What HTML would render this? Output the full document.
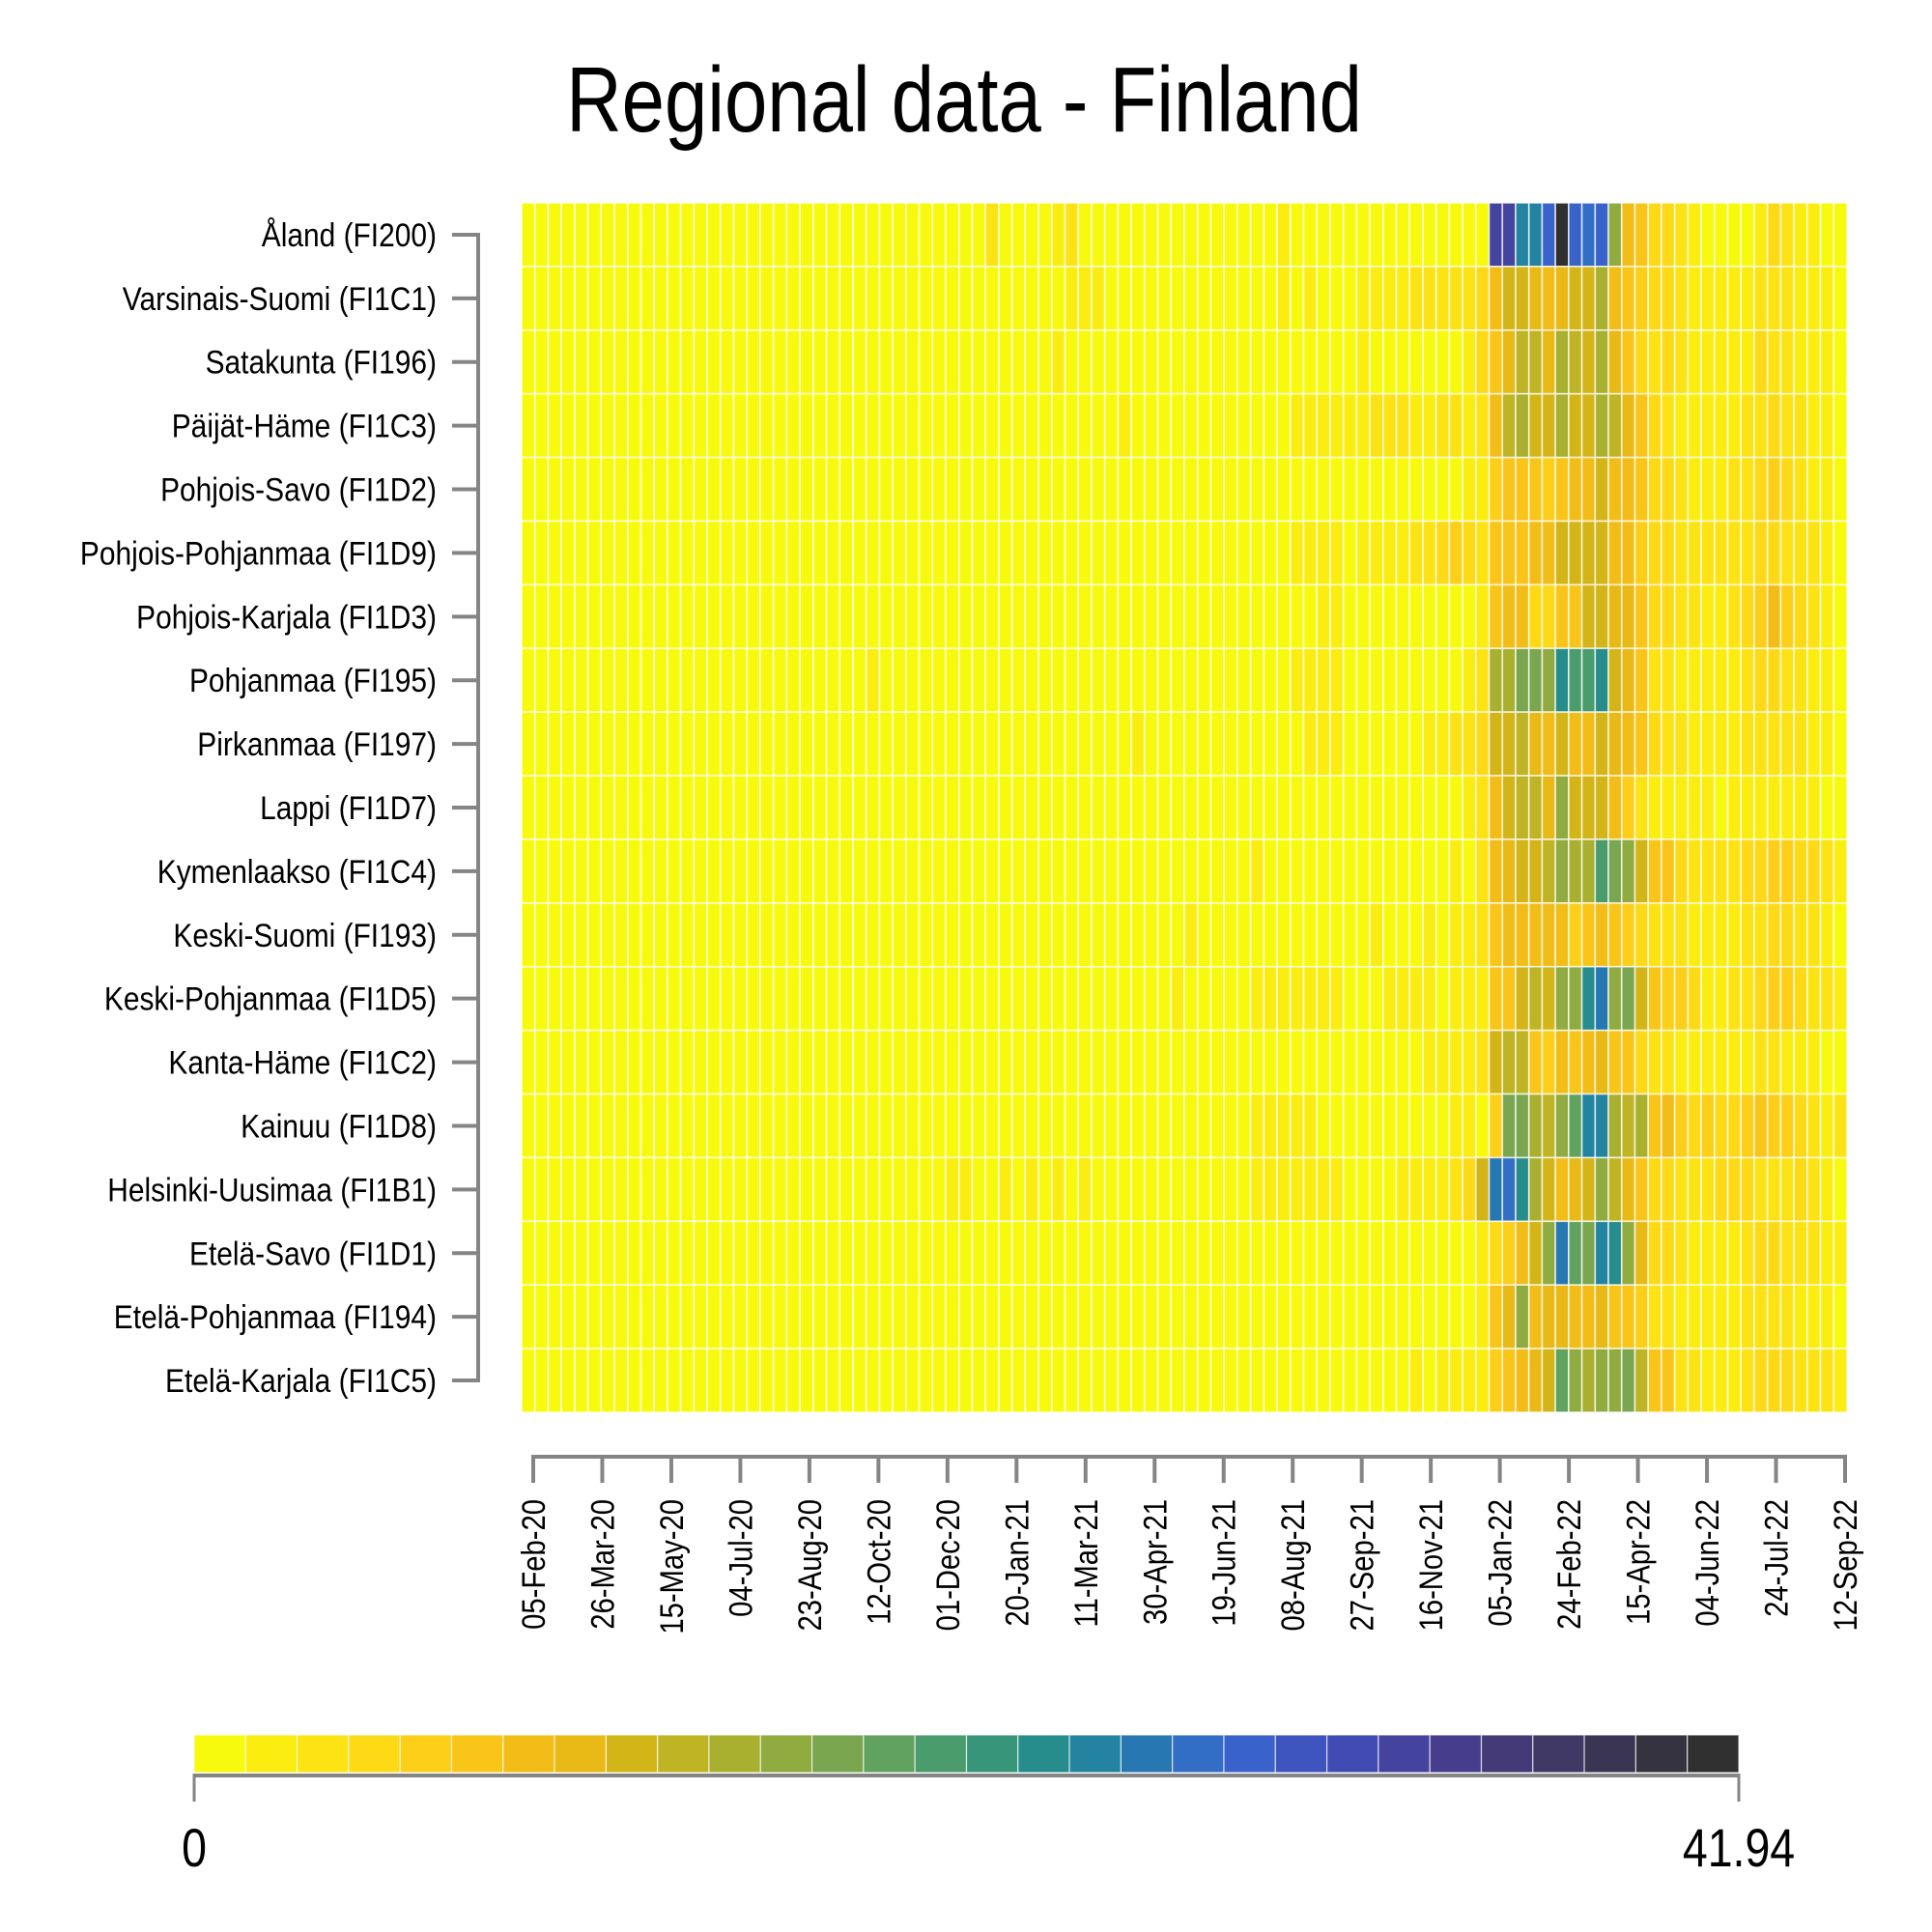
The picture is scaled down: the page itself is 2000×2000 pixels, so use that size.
<!DOCTYPE html>
<html><head><meta charset="utf-8"><title>Regional data - Finland</title>
<style>
html,body{margin:0;padding:0;background:#fff;}
svg{display:block;font-family:"Liberation Sans",Arial,sans-serif;}
</style></head>
<body>
<svg id="chart" width="2000" height="2000" viewBox="0 0 2000 2000" xmlns="http://www.w3.org/2000/svg">
<text transform="translate(998,136) scale(0.83,1)" text-anchor="middle" font-size="96" fill="#000">Regional data - Finland</text>
<g id="cells"></g>
<g id="yaxis"></g>
<g id="xaxis"></g>
<g id="legend"></g>
</svg>
<script>
const regions = ["Åland (FI200)","Varsinais-Suomi (FI1C1)","Satakunta (FI196)","Päijät-Häme (FI1C3)","Pohjois-Savo (FI1D2)","Pohjois-Pohjanmaa (FI1D9)","Pohjois-Karjala (FI1D3)","Pohjanmaa (FI195)","Pirkanmaa (FI197)","Lappi (FI1D7)","Kymenlaakso (FI1C4)","Keski-Suomi (FI193)","Keski-Pohjanmaa (FI1D5)","Kanta-Häme (FI1C2)","Kainuu (FI1D8)","Helsinki-Uusimaa (FI1B1)","Etelä-Savo (FI1D1)","Etelä-Pohjanmaa (FI194)","Etelä-Karjala (FI1C5)"];
const xTickLabels = ["05-Feb-20","26-Mar-20","15-May-20","04-Jul-20","23-Aug-20","12-Oct-20","01-Dec-20","20-Jan-21","11-Mar-21","30-Apr-21","19-Jun-21","08-Aug-21","27-Sep-21","16-Nov-21","05-Jan-22","24-Feb-22","15-Apr-22","04-Jun-22","24-Jul-22","12-Sep-22"];
const legendMin = 0;
const legendMax = 41.94;
const palette = ["#f8fa0d","#fbed10","#fde314","#fed916","#fdcf18","#fac519","#f3bd17","#e9b916","#d4b517","#bfb424","#a9b02f","#90ab40","#79a64f","#61a25e","#4a9c6c","#379579","#278c8c","#2383a0","#2777b3","#326ec6","#3a62cb","#3e55c0","#414bb4","#4444a0","#463e8c","#443a78","#403865","#3a3552","#35333f","#303030"];

const early_aland   = [.5,.5,.5,.5,.5,.5,.5,.5,.5,.5, .5,.5,.5,.5,.5,.5,.5,.5,.5,.5, .5,.5,.5,.5,.5,.5,.5,.5,.5,.5, .5,.5,.5,.5,.5,3.5,.5,.5,.5,.5, 2,3.5,.5,.5,.5,.5,.5,.5,.5,.5, .5,.5,.5,.5,.5,.5,.5,2,.5,.5, .5,.5];
const late_aland    = [.5,.5,.5,.5,.5,.5,.5,.5,.5,.5,.5, 33,33,24.5,24.5,28.5,41.5,28.5,27,28.5,16, 9,7.5,5,5,3.5,2,.5,.5,.5,.5,2,5,3.5,2,2,.5,.5];
const early_varsin  = [.5,.5,.5,.5,.5,.5,.5,.5,.5,.5, .5,.5,.5,.5,.5,.5,.5,.5,.5,.5, .5,.5,.5,.5,.5,.5,.5,.5,.5,.5, .5,.5,.5,.5,.5,.5,.5,.5,.5,.5, .5,2,2,2,.5,.5,.5,.5,.5,.5, .5,.5,.5,.5,.5,.5,.5,2,.5,2, .5,.5];
const late_varsin   = [.5,2,2,2,2,3.5,3.5,3.5,3.5,3.5,5, 9,12,12,10.5,9,10.5,12,12,14.5,9,7.5,6,5,5,3.5,2,2,2,2,2,3.5,3.5,3.5,2,2,2,.5];
const early_sata    = [.5,.5,.5,.5,.5,.5,.5,.5,.5,.5, .5,.5,.5,.5,.5,.5,.5,.5,.5,.5, .5,.5,.5,.5,.5,.5,.5,.5,.5,.5, .5,.5,.5,.5,.5,.5,.5,.5,.5,.5, 2,.5,.5,.5,.5,.5,.5,.5,.5,.5, .5,.5,.5,.5,.5,.5,.5,.5,.5,.5, .5,.5];
const late_sata     = [.5,2,.5,.5,.5,.5,.5,.5,.5,2,5, 7.5,10.5,13,13,10.5,14.5,13,12,14.5,10.5,7.5,5,3.5,5,3.5,2,2,2,2,2,5,3.5,3.5,2,2,2,.5];
const early_paijat  = [.5,.5,.5,.5,.5,.5,.5,.5,.5,.5, .5,.5,.5,.5,.5,.5,.5,.5,.5,.5, .5,.5,.5,.5,.5,.5,.5,.5,.5,.5, .5,.5,.5,.5,.5,.5,.5,.5,.5,.5, .5,.5,.5,.5,.5,2,.5,.5,.5,.5, .5,.5,.5,.5,.5,.5,.5,.5,2,2, 2,2];
const late_paijat   = [2,2,3.5,3.5,3.5,2,2,3.5,3.5,2,3.5, 9,13,14.5,12,12,14.5,12,12,14.5,13,10.5,7.5,5,3.5,2,2,2,2,2,3.5,3.5,5,3.5,3.5,2,2,.5];
const early_psavo   = [.5,.5,.5,.5,.5,.5,.5,.5,.5,.5, .5,.5,.5,.5,.5,.5,.5,.5,.5,.5, .5,.5,.5,.5,.5,.5,.5,.5,.5,.5, .5,.5,.5,.5,.5,.5,.5,.5,.5,.5, .5,.5,.5,.5,.5,.5,.5,.5,.5,.5, .5,.5,.5,.5,.5,.5,.5,.5,.5,.5, .5,.5];
const late_psavo    = [.5,.5,.5,.5,.5,.5,.5,.5,.5,2,2, 6,7.5,7.5,7.5,6,7.5,9,9,12,9,9,7.5,5,5,3.5,2,2,2,3.5,3.5,5,6,5,3.5,2,2,.5];
const early_ppohj   = [.5,.5,.5,.5,.5,.5,.5,.5,.5,.5, .5,.5,.5,.5,.5,.5,.5,.5,.5,.5, .5,.5,.5,.5,.5,.5,.5,.5,.5,.5, .5,.5,.5,.5,.5,.5,.5,.5,.5,.5, .5,.5,.5,.5,.5,.5,.5,.5,.5,.5, .5,.5,.5,.5,.5,.5,.5,.5,2,2, 2,2];
const late_ppohj    = [.5,2,2,2,2,3.5,3.5,5,6,5,3.5, 7.5,7.5,7.5,9,9,12,12,12,12,9,9,6,5,5,3.5,3.5,3.5,3.5,3.5,3.5,5,5,3.5,3.5,3.5,2,.5];
const early_pkarj   = [.5,.5,.5,.5,.5,.5,.5,.5,.5,.5, .5,.5,.5,.5,.5,.5,.5,.5,.5,.5, .5,.5,.5,.5,.5,.5,.5,.5,.5,.5, .5,.5,.5,.5,.5,.5,.5,.5,.5,.5, .5,.5,.5,.5,.5,.5,.5,.5,.5,.5, .5,.5,.5,.5,.5,.5,.5,.5,.5,.5, 2,2];
const late_pkarj    = [.5,.5,.5,.5,.5,.5,.5,.5,.5,.5,2, 7.5,9,9,5,5,7.5,7.5,12,12,10.5,10.5,7.5,5,5,3.5,3.5,2,2,3.5,5,6,9,6,5,3.5,2,.5];
const early_pohjan  = [.5,.5,.5,.5,.5,.5,.5,.5,.5,.5, .5,.5,.5,.5,.5,.5,.5,.5,.5,.5, .5,.5,.5,.5,.5,.5,2,.5,.5,.5, .5,.5,.5,.5,.5,.5,.5,.5,.5,.5, .5,.5,.5,.5,.5,.5,.5,.5,.5,.5, .5,.5,.5,.5,.5,.5,.5,.5,2,2, 2,2];
const late_pohjan   = [.5,.5,.5,.5,.5,.5,.5,.5,.5,2,3.5, 14.5,14.5,17.5,17.5,16,23,20,20,23,12,10.5,7.5,3.5,3.5,2,2,2,2,2,3.5,5,5,3.5,3.5,2,2,.5];
const early_pirk    = [.5,.5,.5,.5,.5,.5,.5,.5,.5,.5, .5,.5,.5,.5,.5,.5,.5,.5,.5,.5, .5,.5,.5,.5,.5,.5,.5,.5,.5,.5, .5,.5,.5,.5,.5,.5,.5,.5,.5,.5, .5,.5,.5,.5,.5,.5,2,.5,.5,.5, .5,.5,.5,.5,.5,.5,.5,.5,.5,2, 2,2];
const late_pirk     = [.5,.5,.5,.5,.5,.5,2,2,3.5,3.5,5, 12,12,13,10.5,9,12,9,9,12,10.5,9,7.5,5,3.5,3.5,2,2,2,2,3.5,3.5,3.5,3.5,3.5,2,2,.5];
const early_lappi   = [.5,.5,.5,.5,.5,.5,.5,.5,.5,.5, .5,.5,.5,.5,.5,.5,.5,.5,.5,.5, .5,.5,.5,.5,.5,.5,.5,.5,.5,.5, .5,.5,.5,.5,.5,.5,.5,.5,.5,.5, .5,.5,.5,.5,.5,.5,.5,.5,.5,.5, .5,.5,.5,.5,.5,.5,.5,.5,.5,.5, .5,.5];
const late_lappi    = [.5,.5,.5,.5,.5,.5,.5,.5,.5,2,3.5, 9,12,13,13,10.5,16,12,12,12,9,6,3.5,2,2,2,2,2,.5,2,2,2,2,2,2,2,.5,.5];
const early_kymen   = [.5,.5,.5,.5,.5,.5,.5,.5,.5,.5, .5,.5,.5,.5,.5,.5,.5,.5,.5,.5, .5,.5,.5,.5,.5,.5,.5,.5,.5,.5, .5,.5,.5,.5,.5,.5,.5,.5,.5,.5, .5,.5,.5,.5,.5,.5,.5,.5,.5,.5, .5,.5,.5,.5,.5,2,.5,.5,.5,.5, .5,.5];
const late_kymen    = [.5,.5,.5,.5,.5,.5,.5,.5,2,.5,3.5, 9,10.5,12,12,13,16,14.5,14.5,20,17.5,16,12,7.5,7.5,5,3.5,3.5,3.5,3.5,5,5,6,6,5,5,3.5,2];
const early_ksuomi  = [.5,.5,.5,.5,.5,.5,.5,.5,.5,.5, .5,.5,.5,.5,.5,.5,.5,.5,.5,.5, .5,.5,.5,.5,.5,.5,.5,.5,.5,.5, .5,.5,.5,.5,.5,.5,.5,.5,.5,.5, .5,.5,.5,.5,.5,.5,.5,.5,.5,.5, 2,.5,.5,.5,.5,.5,.5,.5,.5,.5, .5,.5];
const late_ksuomi   = [.5,.5,2,.5,.5,.5,2,.5,2,2,3.5, 7.5,9,9,9,9,9,6,7.5,9,7.5,6,5,3.5,3.5,3.5,2,2,2,2,3.5,3.5,5,5,3.5,3.5,2,.5];
const early_kpohj   = [.5,.5,.5,.5,.5,.5,.5,.5,.5,.5, .5,.5,.5,.5,.5,.5,.5,.5,.5,.5, .5,.5,.5,.5,.5,.5,.5,.5,.5,.5, .5,.5,.5,.5,.5,.5,.5,.5,.5,.5, .5,.5,.5,.5,.5,.5,.5,.5,.5,2, .5,.5,.5,.5,.5,2,2,2,2,2, 2,2];
const late_kpohj    = [.5,.5,.5,2,2,2,2,.5,2,2,2, 7.5,7.5,12,13,12,16,16,23,26,16,17.5,12,7.5,6,6,5,2,2,3.5,3.5,5,6,6,5,3.5,3.5,2];
const early_kanta   = [.5,.5,.5,.5,.5,.5,.5,.5,.5,.5, .5,.5,.5,.5,.5,.5,.5,.5,.5,.5, .5,.5,.5,.5,.5,.5,.5,.5,.5,.5, .5,.5,.5,.5,.5,.5,.5,.5,.5,.5, .5,.5,.5,.5,.5,.5,.5,.5,.5,.5, .5,.5,.5,.5,.5,.5,.5,.5,.5,.5, .5,.5];
const late_kanta    = [.5,.5,.5,.5,.5,.5,2,2,2,2,3.5, 12,13,13,7.5,6,9,7.5,9,10.5,7.5,7.5,5,3.5,3.5,2,2,2,2,2,2,3.5,3.5,2,2,2,.5,.5];
const early_kainuu  = [.5,.5,.5,.5,.5,.5,.5,.5,.5,.5, .5,.5,.5,.5,.5,.5,.5,.5,.5,.5, .5,.5,.5,.5,.5,.5,.5,.5,.5,.5, .5,.5,.5,.5,.5,.5,.5,.5,.5,.5, .5,.5,.5,.5,.5,.5,.5,.5,.5,.5, .5,.5,.5,.5,.5,2,2,2,2,2, .5,.5];
const late_kainuu   = [.5,.5,.5,.5,.5,.5,.5,.5,2,2,.5, 6,17.5,17.5,14.5,13,16,19,24.5,24.5,14.5,13,14.5,7.5,9,6,5,6,5,5,6,7.5,6,6,5,3.5,2,3.5];
const early_hel     = [.5,.5,.5,.5,.5,.5,.5,.5,.5,.5, .5,.5,.5,.5,.5,.5,.5,.5,.5,.5, .5,.5,.5,.5,.5,.5,.5,.5,.5,.5, .5,.5,2,2,.5,.5,2,.5,2,.5, 2,.5,2,.5,.5,.5,.5,.5,.5,.5, .5,.5,.5,.5,.5,2,2,2,2,2, 2,2];
const late_hel      = [.5,.5,.5,.5,2,2,2,2,3.5,5,12, 26,27,23,14.5,12,9,10.5,12,16,13,10.5,7.5,5,5,3.5,3.5,3.5,5,5,5,3.5,3.5,3.5,5,3.5,2,.5];
const early_esavo   = [.5,.5,.5,.5,.5,.5,.5,.5,.5,.5, .5,.5,.5,.5,.5,.5,.5,.5,.5,.5, .5,.5,.5,.5,.5,.5,.5,.5,.5,.5, .5,.5,.5,.5,.5,.5,.5,.5,.5,.5, .5,.5,.5,.5,.5,.5,.5,.5,.5,.5, .5,.5,.5,.5,.5,.5,.5,.5,.5,.5, .5,.5];
const late_esavo    = [.5,.5,.5,.5,.5,.5,.5,.5,.5,.5,2, 5,6,9,12,16,26,19,17.5,24.5,23,16,10.5,5,5,3.5,2,2,2,2,3.5,5,5,3.5,3.5,3.5,2,2];
const early_epohj   = [.5,.5,.5,.5,.5,.5,.5,.5,.5,.5, .5,.5,.5,.5,.5,.5,.5,.5,.5,.5, .5,.5,.5,.5,.5,.5,.5,.5,.5,.5, .5,.5,.5,.5,.5,.5,.5,.5,.5,.5, .5,.5,.5,.5,.5,.5,.5,.5,.5,.5, .5,.5,.5,.5,.5,.5,.5,.5,.5,.5, .5,.5];
const late_epohj    = [.5,.5,.5,.5,.5,.5,.5,.5,.5,.5,2, 7.5,10.5,16,9,10.5,10.5,9,9,10.5,7.5,7.5,6,3.5,3.5,2,2,2,2,2,3.5,3.5,3.5,3.5,2,2,2,.5];
const early_ekarj   = [.5,.5,.5,.5,.5,.5,.5,.5,.5,.5, .5,.5,.5,.5,.5,.5,.5,.5,.5,.5, .5,.5,.5,.5,.5,.5,.5,.5,.5,.5, .5,.5,.5,.5,.5,.5,.5,.5,.5,.5, .5,.5,.5,.5,.5,.5,.5,.5,.5,.5, .5,.5,.5,.5,.5,.5,.5,.5,.5,.5, .5,.5];
const late_ekarj    = [.5,.5,.5,.5,.5,2,.5,2,2,2,2, 6,7.5,9,10.5,12,19,16,14.5,16,16,17.5,13,7.5,7.5,3.5,3.5,2,2,2,3.5,5,5,5,3.5,3.5,3.5,2];

const rowValues = [
  early_aland.concat(late_aland), early_varsin.concat(late_varsin), early_sata.concat(late_sata),
  early_paijat.concat(late_paijat), early_psavo.concat(late_psavo), early_ppohj.concat(late_ppohj),
  early_pkarj.concat(late_pkarj), early_pohjan.concat(late_pohjan), early_pirk.concat(late_pirk),
  early_lappi.concat(late_lappi), early_kymen.concat(late_kymen), early_ksuomi.concat(late_ksuomi),
  early_kpohj.concat(late_kpohj), early_kanta.concat(late_kanta), early_kainuu.concat(late_kainuu),
  early_hel.concat(late_hel), early_esavo.concat(late_esavo), early_epohj.concat(late_epohj),
  early_ekarj.concat(late_ekarj)
];

const NS = "http://www.w3.org/2000/svg";
const plot = {left:540, right:1912, top:210, bottom:1462};
const nCols = rowValues[0].length, nRows = regions.length;
const colW = (plot.right - plot.left) / nCols;
const rowH = (plot.bottom - plot.top) / nRows;
const xCol = i => plot.left + i * colW;
const yRow = r => plot.top + r * rowH;
const colorOf = v => palette[Math.max(0, Math.min(palette.length - 1, Math.floor((v - legendMin) / (legendMax - legendMin) * palette.length)))];
const axisColor = "#858585";
function mk(tag, attrs, parent){ const e = document.createElementNS(NS, tag); for (const k in attrs) e.setAttribute(k, attrs[k]); parent.appendChild(e); return e; }

const gCells = document.getElementById("cells");
rowValues.forEach((vals, r) => {
  vals.forEach((v, c) => {
    const rect = mk("rect", {x: xCol(c), y: yRow(r), width: colW, height: rowH, fill: colorOf(v), stroke: "#fff", "stroke-opacity": 0.75, "stroke-width": 1.6}, gCells);
    
    
  });
});

// Y axis
const gY = document.getElementById("yaxis");
const yFirst = yRow(0) + rowH / 2, yLast = yRow(nRows - 1) + rowH / 2;
const yLine = mk("line", {x1: 495, x2: 495, y1: yFirst, y2: yLast, stroke: axisColor, "stroke-width": 4, "stroke-linecap": "square"}, gY);


regions.forEach((name, r) => {
  const yc = yRow(r) + rowH / 2;
  const t = mk("line", {x1: 468, x2: 495, y1: yc, y2: yc, stroke: axisColor, "stroke-width": 4}, gY);
  
  
  const lab = mk("text", {transform: `translate(452,${yc + 12}) scale(0.88,1)`, "text-anchor": "end", "font-size": 34, fill: "#000"}, gY);
  lab.textContent = name;
  
  
});

// X axis
const gX = document.getElementById("xaxis");
const xTick0 = 552, xTickN = 1910, axY = 1508;
const xTick = i => xTick0 + i * (xTickN - xTick0) / (xTickLabels.length - 1);
const xLine = mk("line", {x1: xTick(0), x2: xTick(xTickLabels.length - 1), y1: axY, y2: axY, stroke: axisColor, "stroke-width": 4, "stroke-linecap": "square"}, gX);


xTickLabels.forEach((lbl, i) => {
  const x = xTick(i);
  const t = mk("line", {x1: x, x2: x, y1: axY, y2: 1535, stroke: axisColor, "stroke-width": 4}, gX);
  
  
  const lab = mk("text", {transform: `translate(${x + 12},1552) rotate(-90) scale(0.86,1)`, "text-anchor": "end", "font-size": 34, fill: "#000"}, gX);
  lab.textContent = lbl;
  
  
});

// Legend
const gL = document.getElementById("legend");
const lg = {left: 201, right: 1800, top: 1796, bottom: 1835};
const segW = (lg.right - lg.left) / palette.length;
palette.forEach((col, i) => {
  const s = mk("rect", {x: lg.left + i * segW, y: lg.top, width: segW, height: lg.bottom - lg.top, fill: col, stroke: "#fff", "stroke-opacity": 0.7, "stroke-width": 1.2}, gL);
  
  
});
const lLine = mk("line", {x1: lg.left, x2: lg.right, y1: 1838, y2: 1838, stroke: axisColor, "stroke-width": 4}, gL);


[[lg.left, legendMin, "legend-min-label"], [lg.right, legendMax, "legend-max-label"]].forEach(([x, v, nm]) => {
  const t = mk("line", {x1: x, x2: x, y1: 1836, y2: 1865, stroke: axisColor, "stroke-width": 3}, gL);
  
  
  const lab = mk("text", {transform: `translate(${x},1932) scale(0.83,1)`, "text-anchor": "middle", "font-size": 56, fill: "#000"}, gL);
  lab.textContent = String(v);
  
  
});
</script>
</body></html>
